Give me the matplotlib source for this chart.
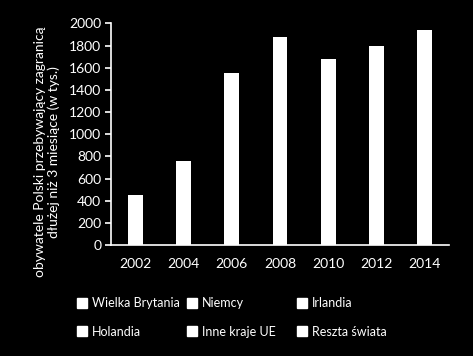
import matplotlib
matplotlib.use("Agg")
import matplotlib.pyplot as plt
from matplotlib.patches import Patch

years = ["2002", "2004", "2006", "2008", "2010", "2012", "2014"]
totals = [451, 758, 1553, 1878, 1679, 1797, 1941]
legend_labels = ["Wielka Brytania", "Niemcy", "Irlandia",
                 "Holandia", "Inne kraje UE", "Reszta świata"]
yticks = [0, 200, 400, 600, 800, 1000, 1200, 1400, 1600, 1800, 2000]

plt.rcParams['font.family'] = ['Lato', 'DejaVu Sans']

W, H = 473, 356
fig = plt.figure(figsize=(W / 100, H / 100), dpi=100, facecolor='black')
ax = fig.add_axes([111 / W, 1 - 245 / H, (449 - 111) / W, (245 - 23.5) / H])
ax.set_facecolor('black')

x = list(range(len(years)))
ax.bar(x, totals, width=0.31, color='white')
ax.set_xlim(-0.5, len(years) - 0.5)
ax.set_ylim(0, 2000)
ax.set_yticks(yticks)
ax.set_xticks(x)
ax.set_xticklabels(years)

for s in ['top', 'right']:
    ax.spines[s].set_visible(False)
for s in ['left', 'bottom']:
    ax.spines[s].set_color('white')
    ax.spines[s].set_linewidth(1.2)
ax.tick_params(axis='y', colors='white', labelsize=10, length=4, width=1.2, pad=3)
ax.tick_params(axis='x', colors='white', labelsize=10, length=0, pad=9)

fig.text(47 / W, 1 - 152 / H,
         "obywatele Polski przebywający zagranicą\ndłużej niż 3 miesiące (w tys.)",
         rotation=90, color='white', fontsize=10, ha='center', va='center',
         linespacing=1.1)

# legend: 3 columns x 2 rows, fixed column positions
col_x = [71, 181, 291]
ncols = 3
for c in range(ncols):
    idx = [c, c + ncols]
    hs = [Patch(facecolor='white', edgecolor='white') for _ in idx]
    leg = fig.legend(hs, [legend_labels[i] for i in idx],
                     loc='upper left', bbox_to_anchor=(col_x[c] / W, 1 - 291 / H),
                     frameon=False, fontsize=9, labelcolor='white',
                     handlelength=0.8, handleheight=0.8, handletextpad=0.35,
                     labelspacing=1.3, borderpad=0.0)

fig.savefig("out.png", dpi=100, facecolor='black')
